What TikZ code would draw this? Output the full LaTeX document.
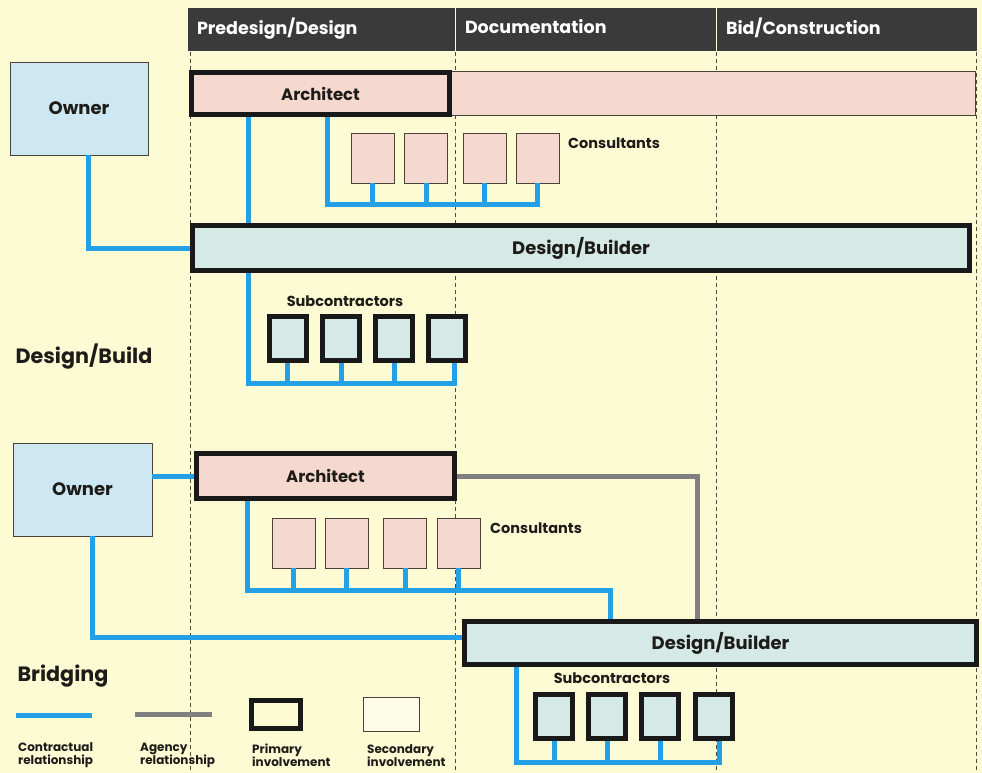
\documentclass[tikz,border=0pt]{standalone}
\usepackage{fontspec}
\setmainfont{Poppins}
\usetikzlibrary{calc}
\definecolor{paper}{RGB}{252,251,212}
\definecolor{headgray}{RGB}{58,58,58}
\definecolor{ownerblue}{RGB}{205,232,243}
\definecolor{archpink}{RGB}{246,217,206}
\definecolor{dbteal}{RGB}{213,233,230}
\definecolor{wire}{RGB}{35,160,230}
\definecolor{agencygray}{RGB}{128,128,128}
\definecolor{boxblack}{RGB}{25,25,25}
\definecolor{thinline}{RGB}{75,65,60}
\definecolor{ink}{RGB}{30,28,25}
\newcommand\midf{\bfseries\fontsize{14.5}{17}\selectfont}
\newcommand\ownf{\bfseries\fontsize{18}{21}\selectfont}
\newcommand\archf{\bfseries\fontsize{16.5}{19}\selectfont}
\newcommand\bigf{\bfseries\fontsize{18}{21}\selectfont}
\newcommand\headf{\bfseries\fontsize{17.5}{20}\selectfont}
\newcommand\titf{\bfseries\fontsize{20.7}{24}\selectfont}
\newcommand\legf{\bfseries\fontsize{12}{13}\selectfont}
\tikzset{
  box/.style={draw=thinline, line width=0.8pt, inner sep=0pt, text=ink, font=\midf},
  primary/.style={box, draw=boxblack, line width=5pt},
  secondary/.style={box},
  consult/.style={minimum width=43pt, minimum height=50pt},
  subbox/.style={minimum width=37pt, minimum height=44pt},
  contract/.style={draw=wire, line width=5pt},
  agency/.style={draw=agencygray, line width=5pt},
  guide/.style={draw=ink!80, line width=0.6pt, dash pattern=on 4pt off 3pt},
  headcell/.style={fill=headgray, draw=paper!70!white, line width=1pt, minimum height=44pt,
    inner xsep=10pt, text depth=8pt, align=left, text=white, font=\headf},
  lbl/.style={text=ink, font=\midf, inner sep=0pt},
  title/.style={text=ink, font=\titf, inner sep=0pt},
  legtext/.style={text=ink, font=\legf, inner sep=0pt, anchor=west, align=left}
}

\begin{document}
\begin{tikzpicture}[x=1pt,y=-1pt]
  \fill[paper] (0,0) rectangle (982,773);
  \useasboundingbox (0,0) rectangle (982,773);
  % column guides
  \foreach \gx in {190,455,716,976}
    \draw[guide] (\gx,52) -- (\gx,773);
  % phases
  \node[headcell, text width=248pt] (hd1) at (321,30) {Predesign/Design};
  \node[headcell, text width=241pt] (hd2) at (585.5,30) {Documentation};
  \node[headcell, text width=241pt] (hd3) at (846.5,30) {Bid/Construction};

  % design/build
  \node[secondary, fill=ownerblue, minimum width=138pt, minimum height=93pt, font=\ownf] (own1) at (79,108.5) {Owner};
  \node[secondary, fill=archpink, minimum width=526pt, minimum height=44pt] (band1) at (712,93) {};
  \node[primary, fill=archpink, minimum width=258pt, minimum height=42pt, font=\archf] (arch1) at (320.5,93.5) {Architect};
  \foreach \n/\cx in {1/372.5,2/426,3/484.5,4/537.5}
    \node[secondary, fill=archpink, consult] (c\n) at (\cx,158) {};
  \node[lbl] (cons1) at (614,143) {Consultants};
  \node[primary, fill=dbteal, minimum width=777pt, minimum height=45pt, font=\bigf] (db1) at (581,248) {Design/Builder};
  \foreach \n/\sx in {1/287.5,2/341,3/394,4/447}
    \node[primary, fill=dbteal, subbox] (s\n) at (\sx,338.5) {};
  \node[lbl] (subs1) at (345,301) {Subcontractors};
  \node[title] (dbtitle) at (84,357) {Design/Build};

  \coordinate (o1) at (88,0);
  \draw[contract] (own1.south -| o1) |- (db1.west);
  \coordinate (a1) at (248,0);
  \draw[contract] (arch1.south -| a1) -- (db1.north -| a1);
  \coordinate (cb1) at (327,204);
  \draw[contract] (arch1.south -| cb1) -- (cb1) -- (cb1 -| c4.south) -- (c4.south);
  \foreach \n in {1,2,3}
    \draw[contract] (c\n.south) -- (c\n.south |- cb1);
  \coordinate (sb1) at (248,383);
  \coordinate (se1) at (454,0);
  \draw[contract] (db1.south -| sb1) -- (sb1) -- (sb1 -| se1) -- (s4.south -| se1);
  \foreach \n in {1,2,3}
    \draw[contract] (s\n.south) -- (s\n.south |- sb1);

  % bridging
  \node[secondary, fill=ownerblue, minimum width=139pt, minimum height=93pt, font=\ownf] (own2) at (82.5,489.5) {Owner};
  \node[primary, fill=archpink, minimum width=258pt, minimum height=45pt, font=\archf] (arch2) at (325.5,476) {Architect};
  \foreach \n/\cx in {5/293.5,6/346.5,7/405,8/458.5}
    \node[secondary, fill=archpink, consult] (c\n) at (\cx,543) {};
  \node[lbl] (cons2) at (536,528) {Consultants};
  \node[primary, fill=dbteal, minimum width=512pt, minimum height=43pt, font=\bigf] (db2) at (720.5,643) {Design/Builder};
  \foreach \n/\sx in {5/554,6/607,7/660,8/713.5}
    \node[primary, fill=dbteal, subbox] (s\n) at (\sx,716) {};
  \node[lbl] (subs2) at (612,678) {Subcontractors};

  \coordinate (ag) at (697,0);
  \draw[agency] (arch2.east) -| (ag |- db2.north);
  \draw[contract] (own2.east |- arch2.west) -- (arch2.west);
  \coordinate (ob2) at (92,637);
  \draw[contract] (own2.south -| ob2) -- (ob2) -- (ob2 -| db2.west);
  \coordinate (cb2) at (247,590);
  \coordinate (cx2) at (610,0);
  \draw[contract] (arch2.south -| cb2) -- (cb2) -| (cx2 |- db2.north);
  \foreach \n in {5,...,8}
    \draw[contract] (c\n.south) -- (c\n.south |- cb2);
  \coordinate (sb2) at (516,762);
  \coordinate (se2) at (719,0);
  \draw[contract] (db2.south -| sb2) -- (sb2) -- (sb2 -| se2) -- (s8.south -| se2);
  \foreach \n in {5,6,7}
    \draw[contract] (s\n.south) -- (s\n.south |- sb2);

  % legend
  \node[title] (bridging) at (63,676) {Bridging};
  \coordinate (lc1) at (16,715);
  \coordinate (lc2) at (92,715);
  \draw[contract] (lc1) -- (lc2);
  \coordinate (la1) at (135,714);
  \coordinate (la2) at (212,714);
  \draw[agency] (la1) -- (la2);
  \node[primary, minimum width=49pt, minimum height=28pt] (lprim) at (276,714.5) {};
  \node[secondary, fill=white!45!paper, minimum width=56pt, minimum height=34pt] (lsec) at (391,714) {};
  \node[legtext] (lt1) at (18,755.5) {Contractual\\relationship};
  \node[legtext] (lt2) at (140,755.5) {Agency\\relationship};
  \node[legtext] (lt3) at (252,755.5) {Primary\\involvement};
  \node[legtext] (lt4) at (367,755.5) {Secondary\\involvement};
\end{tikzpicture}
\end{document}
